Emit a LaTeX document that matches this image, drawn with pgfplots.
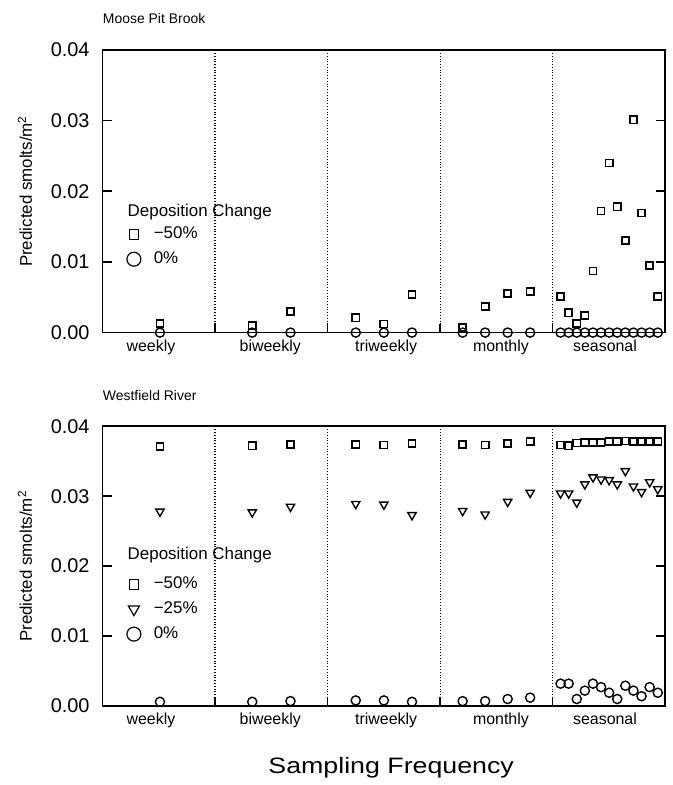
\documentclass[border=0pt]{standalone}
\usepackage{fontspec}
\setmainfont{Liberation Sans}
\newfontfamily\widefont[FakeStretch=1.2]{Liberation Sans}
\usepackage{pgfplots}
\pgfplotsset{compat=1.18}
\usepackage{pgfplotstable}

% x: position inside the frequency blocks (block k spans k..k+1)
% a = Moose Pit Brook, b = Westfield River; 50 = -50%, 25 = -25%, 0 = 0%
\pgfplotstableread{
x     a50    a0  b50    b25    b0
0.51  0.0013 0   0.0371 0.0278 0.0006
1.33  0.0010 0   0.0372 0.0277 0.0006
1.67  0.0030 0   0.0374 0.0285 0.0007
2.25  0.0021 0   0.0374 0.0289 0.0008
2.50  0.0012 0   0.0373 0.0288 0.0008
2.75  0.0054 0   0.0375 0.0273 0.0006
3.20  0.0007 0   0.0374 0.0279 0.0007
3.40  0.0037 0   0.0373 0.0274 0.0007
3.60  0.0055 0   0.0375 0.0292 0.0010
3.80  0.0058 0   0.0378 0.0305 0.0012
4.070 0.0051 0   0.0373 0.0304 0.0032
4.142 0.0028 0   0.0372 0.0304 0.0032
4.214 0.0013 0   0.0376 0.0291 0.0010
4.286 0.0024 0   0.0377 0.0317 0.0022
4.358 0.0087 0   0.0377 0.0327 0.0032
4.430 0.0172 0   0.0377 0.0324 0.0027
4.502 0.0240 0   0.0378 0.0323 0.0019
4.574 0.0178 0   0.0378 0.0317 0.0010
4.646 0.0130 0   0.0379 0.0336 0.0029
4.718 0.0301 0   0.0378 0.0314 0.0022
4.790 0.0169 0   0.0378 0.0306 0.0014
4.862 0.0095 0   0.0378 0.0320 0.0027
4.934 0.0051 0   0.0378 0.0310 0.0019
}\data

\pgfplotsset{
  panel/.style={
    scale only axis, width=282.5pt,
    xmin=0, xmax=5, ymin=0, ymax=0.04,
    xtick={1,2,3,4}, xticklabels={}, xtick pos=left, xmajorgrids,
    grid style={densely dotted, black, line width=0.6pt},
    ytick={0,0.01,0.02,0.03,0.04}, scaled y ticks=false,
    yticklabel style={/pgf/number format/.cd, fixed, fixed zerofill, precision=2,
      assume math mode=true, /tikz/.cd, font=\fontsize{10}{12}\selectfont, xshift=-3pt},
    tick align=inside, major tick length=4.5pt,
    tick style={black, line width=0.8pt},
    axis line style={line width=0.8pt},
    ylabel={Predicted smolts/m\textsuperscript{2}},
    ylabel style={at={(axis description cs:-0.138,0.5)}, anchor=center,
      font=\fontsize{8.5}{10}\selectfont},
    clip=false,
    legend style={draw=none, fill=none, anchor=north west,
      font=\fontsize{8.5}{10}\selectfont, row sep=0pt,
      nodes={text height=6.5pt, text depth=2pt, inner sep=2pt}},
    legend cell align=left,
    legend image code/.code={
      \path[draw=none, fill=none] (-1.5pt,0pt) (10pt,0pt);
      \draw[##1] plot coordinates {(2pt,0pt)};},
  },
  sq/.style={only marks, mark=square, mark size=1.8pt, black, line width=0.8pt},
  ci/.style={only marks, mark=o, mark size=2.3pt, black, line width=0.7pt},
  tr/.style={only marks, mark=triangle, mark size=2.4pt, black, line width=0.7pt,
    mark options={rotate=180}},
}
\tikzset{cat/.style={anchor=base, font=\fontsize{8}{10}\selectfont, yshift=-9.3pt}}

\begin{document}
\begin{tikzpicture}
\path (0,0) rectangle (337.5pt,-392.5pt);

% Moose Pit Brook
\begin{axis}[panel, height=142pt, at={(51.5pt,-167pt)}, anchor=south west,
  legend style={at={(axis description cs:0.032,0.407)}}]
\addplot[ci, forget plot] table[x=x, y=a0] {\data};
\addplot[sq, forget plot] table[x=x, y=a50] {\data};
\addlegendimage{only marks, mark=square, mark size=2.4pt, black, line width=0.6pt}
\addlegendentry{−50\%}
\addlegendimage{only marks, mark=o, mark size=3.5pt, black, line width=0.6pt}
\addlegendentry{0\%}
\node[anchor=base west, font=\fontsize{8.5}{10}\selectfont, inner sep=0pt]
  at (axis description cs:0.044,0.41) {Deposition Change};
\node[anchor=south west, font=\fontsize{7}{8}\selectfont, inner sep=0pt]
  at (axis description cs:0,1.09) {Moose Pit Brook};
\node[cat] at (axis cs:0.43,0) {weekly};
\node[cat] at (axis cs:1.49,0) {biweekly};
\node[cat] at (axis cs:2.52,0) {triweekly};
\node[cat] at (axis cs:3.54,0) {monthly};
\node[cat] at (axis cs:4.465,0) {seasonal};
\end{axis}

% Westfield River
\begin{axis}[panel, height=140.5pt, at={(51.5pt,-354.5pt)}, anchor=south west,
  legend style={at={(axis description cs:0.032,0.495)}}]
\addplot[ci, forget plot] table[x=x, y=b0] {\data};
\addplot[tr, forget plot] table[x=x, y=b25] {\data};
\addplot[sq, forget plot] table[x=x, y=b50] {\data};
\addlegendimage{only marks, mark=square, mark size=2.4pt, black, line width=0.6pt}
\addlegendentry{−50\%}
\addlegendimage{only marks, mark=triangle, mark size=3.2pt, black, line width=0.6pt, mark options={rotate=180}}
\addlegendentry{−25\%}
\addlegendimage{only marks, mark=o, mark size=3.5pt, black, line width=0.6pt}
\addlegendentry{0\%}
\node[anchor=base west, font=\fontsize{8.5}{10}\selectfont, inner sep=0pt]
  at (axis description cs:0.044,0.522) {Deposition Change};
\node[anchor=south west, font=\fontsize{7}{8}\selectfont, inner sep=0pt]
  at (axis description cs:0,1.09) {Westfield River};
\node[cat] at (axis cs:0.43,0) {weekly};
\node[cat] at (axis cs:1.49,0) {biweekly};
\node[cat] at (axis cs:2.52,0) {triweekly};
\node[cat] at (axis cs:3.54,0) {monthly};
\node[cat] at (axis cs:4.465,0) {seasonal};
\node[anchor=base, font=\widefont\fontsize{11.2}{13}\selectfont, yshift=-34pt]
  at (axis description cs:0.513,0) {Sampling Frequency};
\end{axis}
\end{tikzpicture}
\end{document}
